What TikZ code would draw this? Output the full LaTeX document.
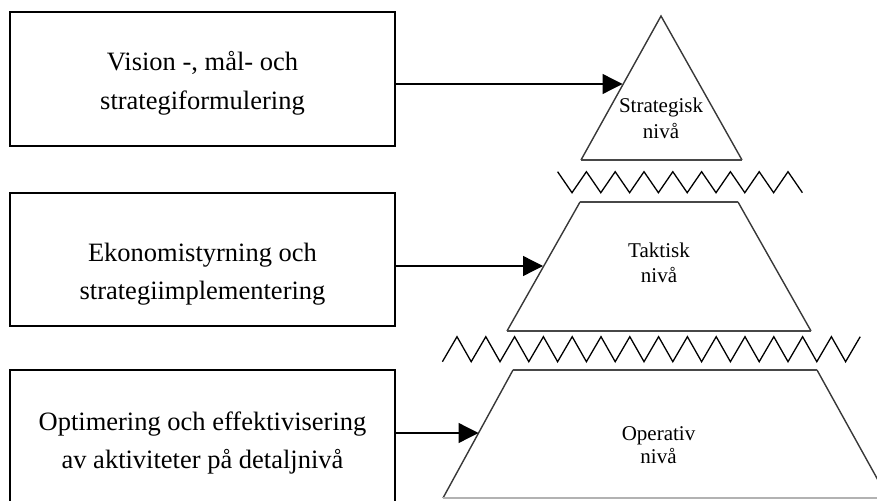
\documentclass[tikz,border=0pt]{standalone}
\usepackage{fontspec}
\setmainfont{Liberation Serif}
\usetikzlibrary{arrows.meta}

\tikzset{
  box/.style={draw=black, line width=1.6pt, rectangle, inner sep=0pt},
  boxtext/.style={font=\fontsize{26.5}{30}\selectfont, inner sep=0pt, anchor=base},
  leveltext/.style={font=\fontsize{21}{24}\selectfont, inner sep=0pt, anchor=base},
  side/.style={draw=black!78, line width=1.4pt},
  rim/.style={draw=black!72, line width=2.2pt},
  softrim/.style={draw=black!30, line width=1.6pt},
  zz/.style={draw=black, line width=1.3pt, line join=miter},
  conn/.style={draw=black, line width=1.3pt, -{Triangle[length=20pt,width=20pt]}}
}

\begin{document}
\begin{tikzpicture}[x=1pt, y=-1pt]
\useasboundingbox (0,0) rectangle (877,500);
\clip (0,0) rectangle (877,500);

% Left-hand description boxes
\node[box, minimum width=385pt, minimum height=134pt] (b1) at (202.5,79) {};
\node[box, minimum width=385pt, minimum height=133pt] (b2) at (202.5,259.5) {};
\node[box, minimum width=385pt, minimum height=160pt] (b3) at (202.5,450) {};

\node[boxtext] (b1a) at (202.5,71)  {Vision -, mål- och};
\node[boxtext] (b1b) at (202.5,110) {strategiformulering};
\node[boxtext] (b2a) at (202.5,261) {Ekonomistyrning och};
\node[boxtext] (b2b) at (202.5,299.5) {strategiimplementering};
\node[boxtext] (b3a) at (202.5,430) {Optimering och effektivisering};
\node[boxtext] (b3b) at (202.5,468) {av aktiviteter på detaljnivå};

% Top of the pyramid: strategic level
\coordinate (s1) at (661,16);
\coordinate (s2) at (742,160);
\coordinate (s3) at (581,160);
\draw[side] (s3) -- (s1) -- (s2);
\draw[rim] (s3) -- (s2);
\node[leveltext] (l1a) at (661,113) {Strategisk};
\node[leveltext] (l1b) at (661,138) {nivå};

% Middle of the pyramid: tactical level
\coordinate (m1) at (580,202);
\coordinate (m2) at (738,202);
\coordinate (m3) at (811,331);
\coordinate (m4) at (507,331);
\draw[side] (m4) -- (m1);
\draw[side] (m2) -- (m3);
\draw[rim] (m1) -- (m2);
\draw[rim] (m4) -- (m3);
\node[leveltext] (l2a) at (659,257) {Taktisk};
\node[leveltext] (l2b) at (659,282) {nivå};

% Base of the pyramid: operative level
\coordinate (o1) at (513,370);
\coordinate (o2) at (817,370);
\coordinate (o3) at (889,500);
\coordinate (o4) at (443,498);
\draw[side] (o4) -- (o1);
\draw[side] (o2) -- (o3);
\draw[rim] (o1) -- (o2);
\draw[softrim] (o4) -- (877,498);
\node[leveltext] (l3a) at (658.5,440) {Operativ};
\node[leveltext] (l3b) at (658.5,463.5) {nivå};

% Zigzag breaks between the levels
\draw[zz] (557.6,171.7)
  \foreach \k in {0,...,7} { -- ({572+28.8*\k},192.7) -- ({586.4+28.8*\k},171.7) }
  -- (802.4,192.7);
\draw[zz] (442.4,361.7)
  \foreach \k in {0,...,13} { -- ({457+28.8*\k},336.7) -- ({471.2+28.8*\k},361.7) }
  -- (860.2,336.7);

% Connectors from the boxes to the pyramid sides
\coordinate (t1) at (622.5,84);
\coordinate (t2) at (543,266);
\coordinate (t3) at (478.5,433);
\draw[conn] (b1.east |- t1) -- (t1);
\draw[conn] (b2.east |- t2) -- (t2);
\draw[conn] (b3.east |- t3) -- (t3);
\end{tikzpicture}
\end{document}
